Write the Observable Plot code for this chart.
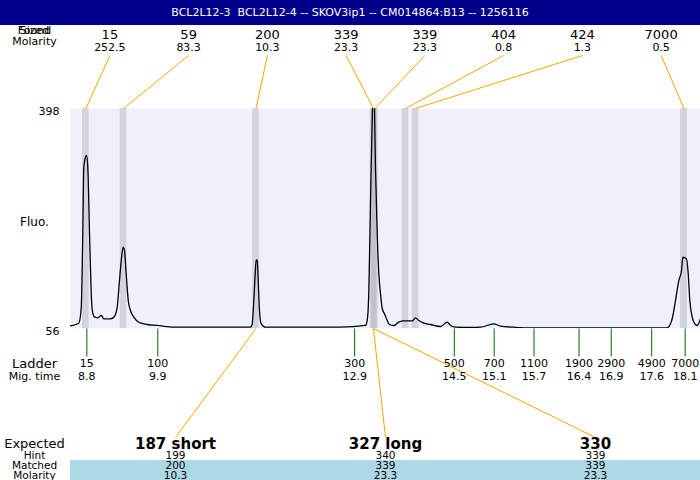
<!DOCTYPE html>
<html><head><meta charset="utf-8">
<script src="https://cdn.jsdelivr.net/npm/d3@7"></script>
<script src="https://cdn.jsdelivr.net/npm/@observablehq/plot@0.6"></script>
<style>
body{margin:0;background:#fff;font-family:"DejaVu Sans",sans-serif;}
#wrap{position:relative;width:700px;height:480px;overflow:hidden}
#title{position:absolute;left:0;top:0;width:700px;height:25px;background:#00008b;color:#fff;font:11px "DejaVu Sans";text-align:center;line-height:26px;z-index:2;white-space:pre}
#chart{position:absolute;left:0;top:0}
</style></head><body>
<div id="wrap"><div id="title"></div><div id="chart"></div></div>
<script>
const title = "BCL2L12-3  BCL2L12-4 -- SKOV3ip1 -- CM014864:B13 -- 1256116";
// Found peaks (top row)
const foundSizes = ["15", "59", "200", "339", "339", "404", "424", "7000"];
const foundMolarity = ["252.5", "83.3", "10.3", "23.3", "23.3", "0.8", "1.3", "0.5"];
const foundTimes = [8.79, 9.375, 11.436, 13.263, 13.285, 13.761, 13.917, 18.092];
// Ladder
const ladderSizes = ["15", "100", "300", "500", "700", "1100", "1900", "2900", "4900", "7000"];
const ladderTimes = [8.805, 9.909, 12.97, 14.52, 15.14, 15.76, 16.46, 16.96, 17.59, 18.11];
const ladderTimeLabels = ["8.8", "9.9", "12.9", "14.5", "15.1", "15.7", "16.4", "16.9", "17.6", "18.1"];
// Expected / matched (bottom)
const expectedLabels = ["187 short", "327 long", "330"];
const hintValues = ["199", "340", "339"];
const matchedValues = ["200", "339", "339"];
const matchedMolarity = ["10.3", "23.3", "23.3"];
const matchedPeak = [2, 3, 3];
// Fluorescence range
const fluoMin = 56, fluoMax = 398;
// Electropherogram trace [migration time, fluorescence]
const trace = [
[8.551,60.2],[8.680,64.2],[8.718,89.1],[8.742,203.7],[8.758,306.7],[8.784,322.3],[8.800,324.9],[8.820,306.7],[8.847,203.7],[8.873,110.4],[8.898,79.3],[8.929,73.6],[8.976,72.6],[9.029,76.2],[9.069,71.1],[9.173,71.1],[9.235,74.7],[9.277,89.1],[9.313,130.6],[9.340,161.7],[9.371,182.4],[9.391,177.3],[9.417,141.5],[9.449,99.5],[9.484,84.0],[9.536,73.6],[9.613,65.8],[9.744,62.2],[9.900,60.7],[10.158,58.0],[11.351,58.0],[11.377,63.3],[11.402,99.5],[11.424,141.5],[11.439,162.8],[11.455,161.7],[11.470,130.6],[11.490,84.0],[11.517,63.3],[11.584,58.0],[12.75,58.0],[13.139,60.7],[13.165,68.4],[13.190,110.4],[13.217,255.0],[13.243,379.3],[13.262,430],[13.279,396],[13.294,306.7],[13.321,203.7],[13.346,141.5],[13.372,110.4],[13.399,87.1],[13.434,78.9],[13.477,68.4],[13.512,62.2],[13.579,60.7],[13.657,65.8],[13.735,67.7],[13.865,67.7],[13.917,72.6],[13.968,68.4],[14.046,64.2],[14.150,62.2],[14.305,59.1],[14.410,65.8],[14.461,60.7],[14.539,58.0],[14.772,57.6],[14.928,58.0],[15.135,63.3],[15.239,59.6],[15.446,58.0],[15.654,57.1],[17.831,57.1],[17.909,71.1],[17.960,99.5],[18.012,130.6],[18.054,146.2],[18.074,166.8],[18.131,164.4],[18.158,141.0],[18.183,99.5],[18.220,73.6],[18.261,63.3],[18.298,60.7],[18.350,71.5]
];

document.getElementById("title").textContent = title;

const W = 700, H = 480, mL = 70, mR = 0, mT = 108, mB = 152;
const xDomain = [8.551, 18.349];
const xs = d3.scaleLinear().domain(xDomain).range([mL, W - mR]);
const ys = d3.scaleLinear().domain([fluoMin, fluoMax]).range([H - mB, mT]);
const X = px => xs.invert(px), Y = py => ys.invert(py);
const topCol = i => mL + (i + 0.5) * (W - mL - mR) / foundSizes.length;
const botCol = i => mL + (i + 0.5) * (W - mL - mR) / expectedLabels.length;

const fi = d3.range(foundSizes.length);
const li = d3.range(ladderSizes.length);
const ei = d3.range(expectedLabels.length);
const font = "DejaVu Sans";

const leftLabels = [
  {t: "Sized", py: 29.5, s: 11}, {t: "Found", py: 29.5, s: 11}, {t: "Molarity", py: 40.5, s: 11},
  {t: "Fluo.", py: 222, s: 12},
  {t: "Ladder", py: 363, s: 13}, {t: "Mig. time", py: 376, s: 11},
  {t: "Expected", py: 443, s: 13}, {t: "Hint", py: 455, s: 10.5}, {t: "Matched", py: 465.5, s: 10.5}, {t: "Molarity", py: 475, s: 10.5}
];

const chart = Plot.plot({
  width: W, height: H,
  marginLeft: mL, marginRight: mR, marginTop: mT, marginBottom: mB,
  x: {domain: xDomain, axis: null},
  y: {domain: [fluoMin, fluoMax], axis: null},
  style: {fontFamily: font, background: "transparent", color: "black"},
  marks: [
    Plot.frame({fill: "#f0f0fc", stroke: null}),
    Plot.rect(fi, {x1: i => foundTimes[i] - 0.052, x2: i => foundTimes[i] + 0.052, y1: fluoMin, y2: fluoMax, fill: "#a8a8b6", fillOpacity: 0.4}),
    Plot.line(trace, {x: d => d[0], y: d => d[1], stroke: "black", strokeWidth: 1.3, clip: true, curve: "monotone-x"}),
    Plot.link(li, {x1: i => ladderTimes[i], x2: i => ladderTimes[i], y1: fluoMin, y2: Y(356), stroke: "#006400", strokeWidth: 1}),
    Plot.link(fi, {x1: i => X(topCol(i)), y1: Y(55), x2: i => foundTimes[i], y2: fluoMax, stroke: "orange", strokeWidth: 1}),
    Plot.link(ei, {x1: i => foundTimes[matchedPeak[i]], y1: fluoMin, x2: i => X(botCol(i)), y2: Y(437), stroke: "orange", strokeWidth: 1}),
    Plot.rect([0], {x1: X(mL), x2: X(W), y1: Y(460), y2: Y(480), fill: "#add8e6"}),
    Plot.text(fi, {x: i => X(topCol(i)), y: Y(34), text: i => foundSizes[i], fontSize: 13}),
    Plot.text(fi, {x: i => X(topCol(i)), y: Y(47), text: i => foundMolarity[i], fontSize: 11}),
    Plot.text(li, {x: i => ladderTimes[i], y: Y(363), text: i => ladderSizes[i], fontSize: 11}),
    Plot.text(li, {x: i => ladderTimes[i], y: Y(376), text: i => ladderTimeLabels[i], fontSize: 11}),
    Plot.text(ei, {x: i => X(botCol(i)), y: Y(444), text: i => expectedLabels[i], fontSize: 15, fontWeight: "bold"}),
    Plot.text(ei, {x: i => X(botCol(i)), y: Y(455), text: i => hintValues[i], fontSize: 10.5}),
    Plot.text(ei, {x: i => X(botCol(i)), y: Y(465.5), text: i => matchedValues[i], fontSize: 10.5}),
    Plot.text(ei, {x: i => X(botCol(i)), y: Y(475), text: i => matchedMolarity[i], fontSize: 10.5}),
    Plot.text([fluoMax, fluoMin], {x: X(59), y: d => d, dy: 3, text: d => String(d), textAnchor: "end", fontSize: 11}),
    Plot.text(leftLabels, {x: X(34), y: d => Y(d.py), text: "t", fontSize: d => d.s})
  ]
});
document.getElementById("chart").appendChild(chart);
</script>
</body></html>
